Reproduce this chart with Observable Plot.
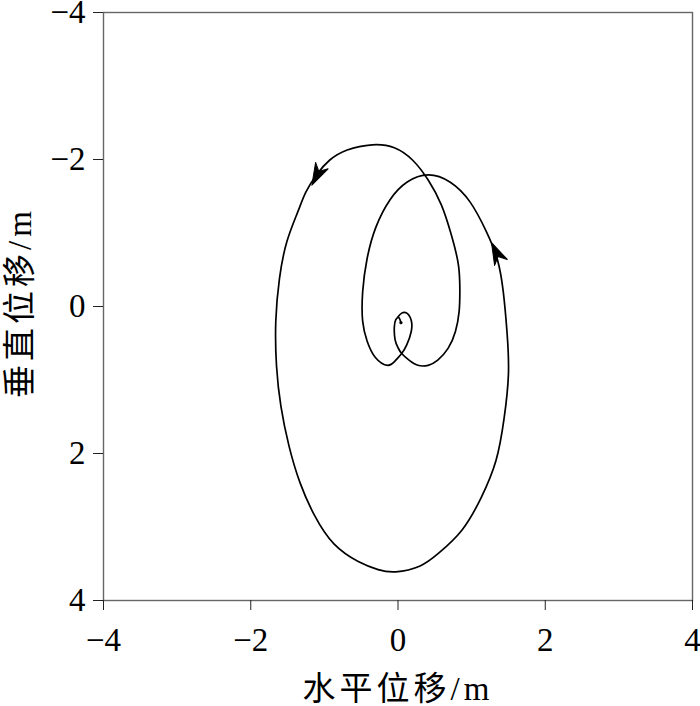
<!DOCTYPE html>
<html><head><meta charset="utf-8">
<script src="https://cdn.jsdelivr.net/npm/d3@7"></script>
<script src="https://cdn.jsdelivr.net/npm/@observablehq/plot@0.6"></script>
<style>
html,body{margin:0;padding:0;background:#fff;}
</style></head><body><div id="chart"></div>
<script>
// trajectory (horizontal, vertical displacement in m), in travel order
const pathX = [0.04,0.01,-0.03,-0.05,-0.04,0.00,0.05,0.15,0.27,0.41,0.54,0.68,0.78,0.83,0.84,0.82,0.72,0.59,0.41,0.20,-0.05,
  -0.35,-0.69,-0.93,-1.10,-1.25,-1.36,-1.51,-1.61,-1.66,-1.65,-1.59,-1.48,-1.33,-1.13,-0.87,-0.54,-0.27,-0.03,0.30,0.56,
  0.87,1.13,1.33,1.44,1.50,1.48,1.43,1.35,1.20,0.98,0.71,0.41,0.12,-0.11,-0.30,-0.42,-0.48,-0.48,-0.42,-0.31,
  -0.14,-0.03,0.05,0.12,0.18,0.18,0.12,0.05,0.00];
const pathY = [0.22,0.15,0.18,0.28,0.45,0.56,0.64,0.73,0.80,0.80,0.73,0.57,0.34,0.07,-0.20,-0.57,-0.99,-1.38,-1.72,-1.99,-2.16,
  -2.20,-2.13,-1.99,-1.80,-1.56,-1.29,-0.88,-0.38,0.20,0.81,1.36,1.90,2.40,2.85,3.23,3.47,3.58,3.61,3.53,3.35,
  3.04,2.60,2.10,1.53,0.92,0.34,-0.20,-0.64,-1.02,-1.42,-1.69,-1.79,-1.69,-1.45,-1.08,-0.65,-0.20,0.20,0.47,0.69,
  0.80,0.73,0.64,0.52,0.34,0.19,0.09,0.09,0.14];
// arrowhead tips on the trajectory
const arrowX = [-1.17, 1.27];
const arrowY = [-1.65, -0.87];
const xTicks = [-4, -2, 0, 2, 4];
const yTicks = [-4, -2, 0, 2, 4];
const xTitle = "水平位移/m";
const yTitle = "垂直位移/m";

const path = pathX.map((x, i) => ({x, y: pathY[i]}));
function heading(ax, ay) {
  let best = 1, bd = Infinity;
  for (let i = 1; i < path.length - 1; i++) {
    const d = (path[i].x - ax) ** 2 + (path[i].y - ay) ** 2;
    if (d < bd) { bd = d; best = i; }
  }
  const a = path[best - 1], b = path[best + 1];
  return Math.atan2(b.x - a.x, -(b.y - a.y)) * 180 / Math.PI;
}
const arrows = arrowX.map((x, i) => ({x, y: arrowY[i], r: heading(x, arrowY[i])}));

const arrowShape = {
  draw(ctx, l) {
    const w = 7;
    ctx.moveTo(0, -l);
    ctx.lineTo(w, 0);
    ctx.lineTo(0, -l * 0.3);
    ctx.lineTo(-w, 0);
    ctx.closePath();
  }
};
const fmt = d => d < 0 ? "\u2212" + Math.abs(d) : String(d);

const plot = Plot.plot({
  width: 700, height: 706,
  marginLeft: 103, marginRight: 8, marginTop: 12, marginBottom: 106,
  x: {domain: [-4, 4]},
  y: {domain: [-4, 4], reverse: true},
  style: {fontFamily: '"Liberation Serif", "Noto Sans CJK SC", serif', fontSize: "33px", background: "#fff", color: "#000"},
  marks: [
    Plot.frame({stroke: "#666", strokeWidth: 1.4}),
    Plot.axisX({ticks: xTicks, tickSize: 10, tickPadding: 17, tickFormat: fmt, label: null, stroke: "#222"}),
    Plot.axisY({ticks: yTicks, tickSize: 10, tickPadding: 8, tickFormat: fmt, label: null, stroke: "#222"}),
    Plot.line(path, {x: "x", y: "y", curve: "natural", stroke: "#000", strokeWidth: 1.7}),
    Plot.dot(path.slice(0, 1), {x: "x", y: "y", r: 1.6, fill: "#000", stroke: null}),
    Plot.vector(arrows, {x: "x", y: "y", rotate: "r", length: 22, anchor: "end", shape: arrowShape, fill: "#000", stroke: "#000", strokeWidth: 1}),
    Plot.text([xTitle], {frameAnchor: "bottom", dy: 89, text: d => d, fontSize: 33, textAnchor: "middle", lineAnchor: "middle"}),
    Plot.text([yTitle], {frameAnchor: "left", dx: -83, dy: -4, rotate: -90, text: d => d, fontSize: 33, textAnchor: "middle", lineAnchor: "middle"})
  ]
});
d3.select(plot).selectAll('g[aria-label="text"] text').style("letter-spacing", "4px");
document.getElementById("chart").appendChild(plot);
</script></body></html>
